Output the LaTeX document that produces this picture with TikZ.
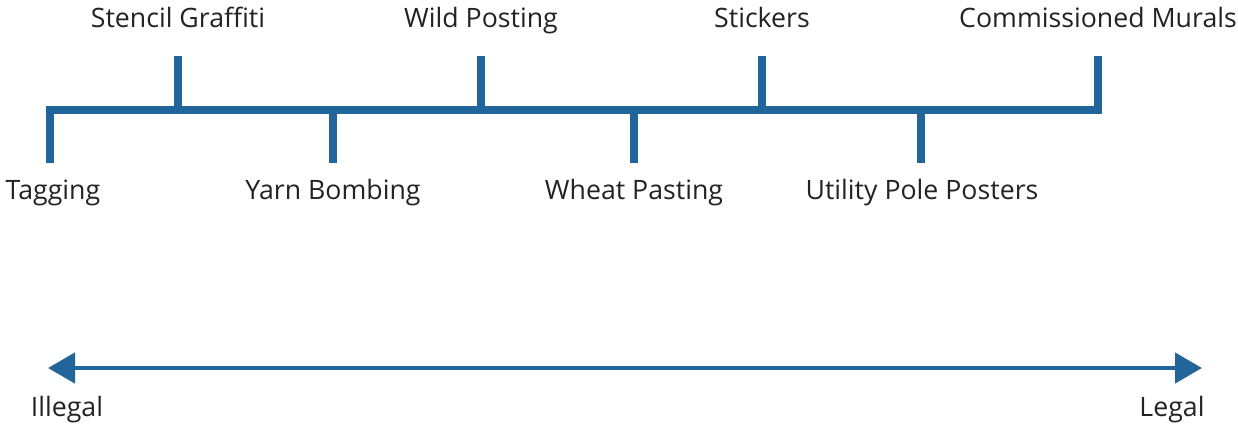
\documentclass[tikz,border=0pt]{standalone}
\usepackage{fontspec}
\setmainfont{Open Sans}
\usetikzlibrary{arrows.meta}
\definecolor{barblue}{RGB}{34,101,155}
\definecolor{txt}{RGB}{35,35,35}
\begin{document}
\begin{tikzpicture}[x=1pt,y=-1pt,
  bar/.style={draw=barblue,line width=7.5pt,miter limit=10,line join=miter},
  lbl/.style={anchor=base,inner sep=0pt,text=txt,font=\fontsize{26.7}{31}\selectfont},
  scale line/.style={draw=barblue,line width=4.5pt,{Triangle[length=27pt,width=30pt]}-{Triangle[length=27pt,width=30pt]}}]
\useasboundingbox (0,0) rectangle (1238,426);
% bar end points and tick ends
\coordinate (bL) at (50,110);
\coordinate (bR) at (1098,110);
\coordinate (tag) at (50,163);
\coordinate (com) at (1098,56);
\coordinate (s1) at (178,110); \coordinate (s1e) at (178,56);
\coordinate (w1) at (481,110); \coordinate (w1e) at (481,56);
\coordinate (k1) at (762,110); \coordinate (k1e) at (762,56);
\coordinate (y1) at (333,110); \coordinate (y1e) at (333,163);
\coordinate (p1) at (634,110); \coordinate (p1e) at (634,163);
\coordinate (u1) at (921,110); \coordinate (u1e) at (921,163);
\draw[bar] (tag) -- (bL) -- (bR) -- (com);
\foreach \a/\b in {s1/s1e,w1/w1e,k1/k1e,y1/y1e,p1/p1e,u1/u1e}
  \draw[bar,line cap=butt] (\a) -- (\b);
% labels
\node[lbl] (nstencil) at (178,27) {Stencil Graffiti};
\node[lbl] (nwild) at (481,27) {Wild Posting};
\node[lbl] (nstick) at (762,27) {Stickers};
\node[lbl] (ncomm) at (1098,27) {Commissioned Murals};
\node[lbl] (ntag) at (53,199) {Tagging};
\node[lbl] (nyarn) at (333,199) {Yarn Bombing};
\node[lbl] (nwheat) at (634,199) {Wheat Pasting};
\node[lbl] (nutil) at (922,199) {Utility Pole Posters};
% scale
\coordinate (aL) at (48,368);
\coordinate (aR) at (1202,368);
\draw[scale line] (aL) -- (aR);
\node[lbl] (nill) at (67,416) {Illegal};
\node[lbl] (nleg) at (1172,416) {Legal};
\end{tikzpicture}
\end{document}
